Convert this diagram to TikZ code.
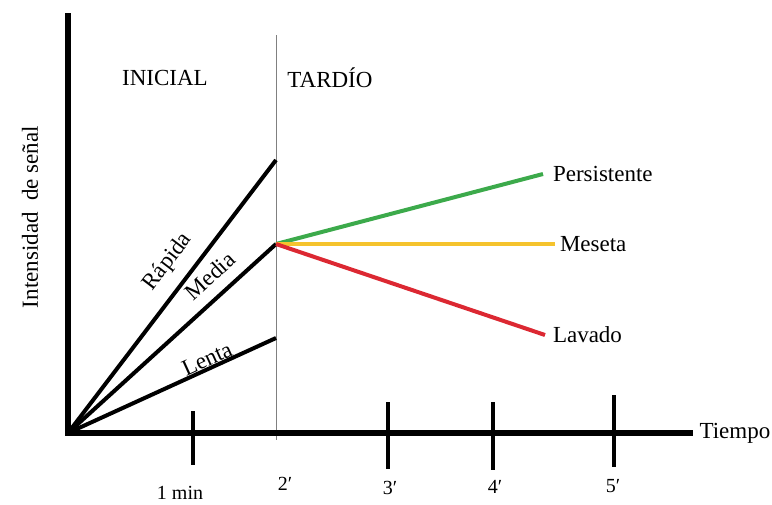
\documentclass[tikz,border=0pt]{standalone}
\usepackage{fontspec}
\setmainfont{Liberation Serif}
\definecolor{verde}{RGB}{60,170,75}
\definecolor{amarillo}{RGB}{245,195,45}
\definecolor{rojo}{RGB}{220,40,50}
\tikzset{
  eje/.style={line width=2.6pt},
  curva/.style={line width=2pt},
  marca/.style={line width=1.8pt},
  etiqueta/.style={font=\fontsize{11.5}{13}\selectfont, inner sep=0pt},
  minuto/.style={font=\fontsize{10}{12}\selectfont, inner sep=0pt}
}
\begin{document}
\begin{tikzpicture}[x=0.5pt,y=-0.5pt]
        \useasboundingbox (0,0) rectangle (772,504);

            \coordinate (0) at (68,433);
            \coordinate (y) at (68,13);
            \coordinate (x) at (693,433);
            \coordinate (r) at (276,160);
            \coordinate (m) at (276,244);
            \coordinate (l) at (276,338);
            \coordinate (p) at (543,174);
            \coordinate (s) at (555,244);
            \coordinate (v) at (545,335);
            \coordinate (d1) at (276,35);
            \coordinate (d2) at (276,440);

            \draw[gray, line width=0.5pt] (d1) -- (d2);

            \draw[eje]
            (y) -- (0) -- (x)
            node[etiqueta, right=2pt] (tiempo) {Tiempo};

            \node[etiqueta, rotate=90] (intensidad) at (30,217) {Intensidad\ \ de señal};
            \node[etiqueta] (inicial) at (165,78) {INICIAL};
            \node[etiqueta] (tardio) at (330,78) {TARDÍO};

            \foreach \n/\px/\ya/\yb/\lx/\ly/\txt in
              {1/193/411/465/180/493/1 min,
               3/388/402/469/390/488/3′,
               4/493/402/470/495/487/4′,
               5/614/395/467/613/486/5′}
            {
              \coordinate (a\n) at (\px,\ya);
              \coordinate (b\n) at (\px,\yb);
              \draw[marca] (a\n) -- (b\n);
              \node[minuto] (t\n) at (\lx,\ly) {\txt};
            }
            \node[minuto] (t2) at (285,484) {2′};

            \draw[curva] (0) -- (r);
            \draw[curva] (0) -- (m);
            \draw[curva] (0) -- (l);
            \node[etiqueta, rotate=52.7] (rapida) at (168,262) {Rápida};
            \node[etiqueta, rotate=42.3] (media) at (210,276) {Media};
            \node[etiqueta, rotate=24.5] (lenta) at (207,359) {Lenta};

            \draw[curva, verde] (m) -- (p)
            node[etiqueta, black, right=4pt] (persistente) {Persistente};
            \draw[curva, amarillo] (m) -- (s)
            node[etiqueta, black, right=1.5pt] (meseta) {Meseta};
            \draw[curva, rojo] (m) -- (v)
            node[etiqueta, black, right=3pt] (lavado) {Lavado};

        \end{tikzpicture}
\end{document}
